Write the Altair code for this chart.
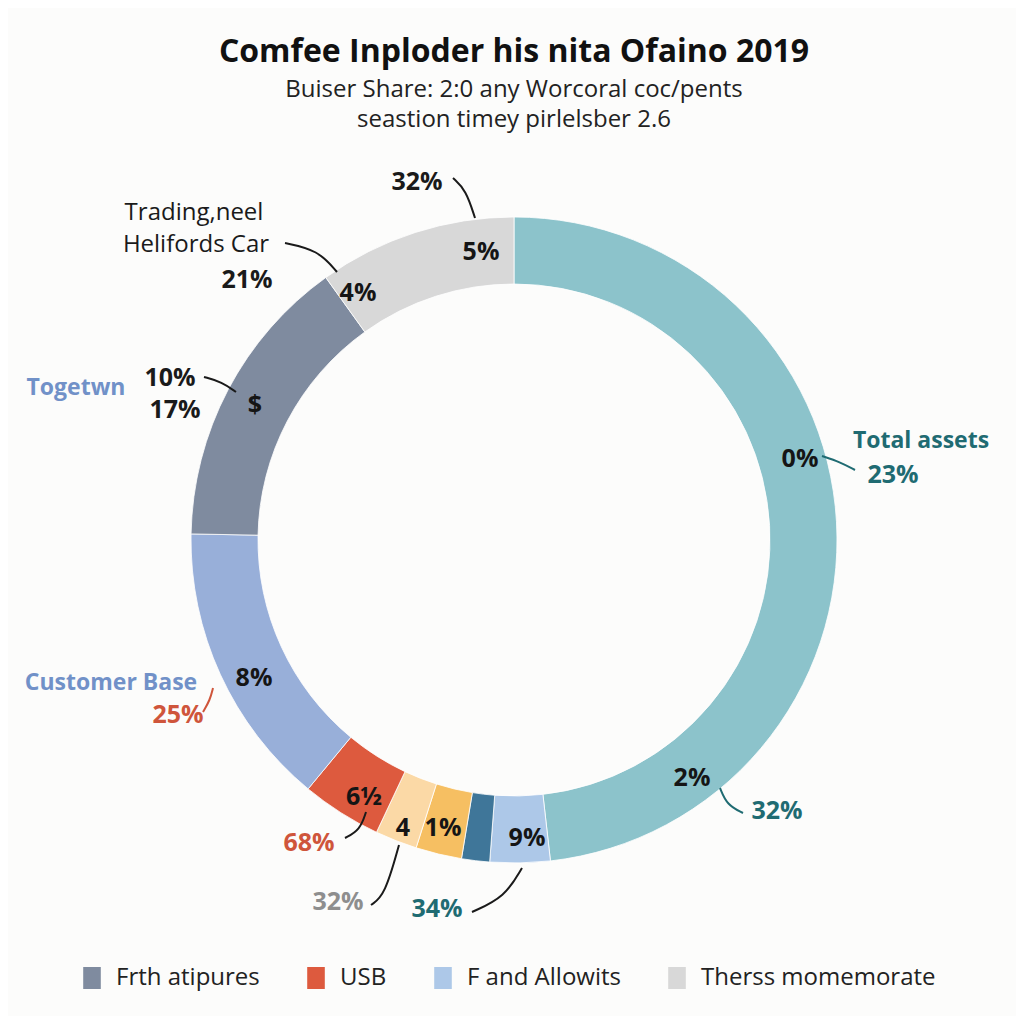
import altair as alt
import pandas as pd

# ---- ring data (clockwise from 12 o'clock) ----
categories = ["Total assets", "F and Allowits", "Holdings", "Seastion", "Timey",
              "USB", "Customer Base", "Frth atipures", "Therss momemorate"]
shares = [48.2, 3.0, 1.4, 2.3, 2.1, 4.0, 14.3, 14.8, 9.9]
colors = ["#8cc3cb", "#adc8e8", "#3f7699", "#f6bf62", "#fbd9a6",
          "#dd5a3e", "#98afd9", "#7f8b9f", "#d8d8d8"]
legend_items = ["Frth atipures", "USB", "F and Allowits", "Therss momemorate"]

# ---- labels inside the ring ----
in_text = ["5%", "4%", "$", "8%", "6½", "4", "1%", "9%", "2%", "0%"]
in_dx = [-33, -156, -259, -260, -150, -111, -71, 13, 178, 286]
in_dy = [-288, -247, -135, 138, 257, 288, 288, 298, 238, -81]

# ---- outer annotations (bold) ----
ob_text = ["32%", "21%", "10%", "17%", "25%", "68%", "32%", "34%",
           "Total assets", "23%", "32%", "Togetwn", "Customer Base"]
ob_dx = [-97, -267, -344, -339, -336, -205, -176, -77, 407, 379, 263, -438, -403]
ob_dy = [-358, -260, -162, -130, 175, 303, 362, 369, -99, -65, 271, -152, 143]
ob_col = ["#1a1a1a", "#1a1a1a", "#1a1a1a", "#1a1a1a", "#cf553b", "#cf553b",
          "#8e8e8e", "#1f6b72", "#1f6b72", "#1f6b72", "#1f6b72", "#7191c8", "#7191c8"]
ob_size = [25, 25, 25, 25, 25, 25, 25, 25, 23, 25, 25, 23, 23]

# ---- outer annotations (regular) ----
or_text = ["Trading,neel", "Helifords Car"]
or_dx = [-320, -318]
or_dy = [-327, -295]

# ---- connector curves ----
conn_id = [1, 1, 1, 2, 2, 2, 3, 3, 3, 4, 4, 4, 5, 5, 5, 6, 6, 6, 7, 7, 7, 8, 8, 8, 9, 9, 9]
conn_step = [0, 1, 2] * 9
conn_dx = [-61, -48, -39, -229, -196, -177, -310, -292, -278, -311, -304, -301,
           -169, -154, -148, -143, -129, -115, -42, -9, 8, 308, 326, 341, 206, 213, 229]
conn_dy = [-362, -350, -322, -297, -290, -268, -163, -158, -148, 172, 160, 148,
           298, 290, 272, 365, 355, 305, 372, 357, 328, -84, -78, -70, 248, 265, 273]
conn_col_by_id = {1: "#1a1a1a", 2: "#1a1a1a", 3: "#1a1a1a", 4: "#cf553b", 5: "#1a1a1a",
                  6: "#1a1a1a", 7: "#1a1a1a", 8: "#1f6b72", 9: "#1f6b72"}

ring = pd.DataFrame({"category": categories, "share": shares,
                     "order": list(range(len(categories)))})
inside = pd.DataFrame({"t": in_text, "dx": in_dx, "dy": in_dy})
outer_b = pd.DataFrame({"t": ob_text, "dx": ob_dx, "dy": ob_dy, "c": ob_col, "s": ob_size})
outer_r = pd.DataFrame({"t": or_text, "dx": or_dx, "dy": or_dy})
conn = pd.DataFrame({"id": conn_id, "step": conn_step, "dx": conn_dx, "dy": conn_dy,
                     "c": [conn_col_by_id[i] for i in conn_id]})

W, H = 1000, 780
xs = alt.Scale(domain=[-W / 2, W / 2])
ys = alt.Scale(domain=[-H / 2, H / 2], reverse=True)
X = alt.X("dx:Q", scale=xs, axis=None)
Y = alt.Y("dy:Q", scale=ys, axis=None)
FONT = "Open Sans"

arc = alt.Chart(ring).mark_arc(outerRadius=323, innerRadius=256,
                               stroke="#ffffff", strokeWidth=0.8).encode(
    theta=alt.Theta("share:Q", stack=True),
    order=alt.Order("order:Q"),
    color=alt.Color("category:N",
                    scale=alt.Scale(domain=categories, range=colors),
                    legend=alt.Legend(title=None, orient="none", legendX=66, legendY=816,
                                      direction="horizontal", values=legend_items,
                                      symbolType="M-0.8,-1H0.8V1H-0.8Z", symbolSize=484,
                                      symbolStrokeWidth=0, symbolOpacity=1,
                                      labelFont=FONT, labelFontSize=24, labelLimit=400,
                                      labelColor="#222222", labelOffset=12,
                                      columnPadding=44)),
)

lines = alt.Chart(conn).mark_line(interpolate="basis", strokeWidth=2).encode(
    x=X, y=Y, detail="id:N", order="step:Q",
    stroke=alt.Stroke("c:N", scale=None),
)

t_inside = alt.Chart(inside).mark_text(font=FONT, fontWeight="bold", fontSize=25,
                                       color="#151515").encode(x=X, y=Y, text="t:N")

t_outer_b = alt.Chart(outer_b).mark_text(font=FONT, fontWeight="bold").encode(
    x=X, y=Y, text="t:N",
    fill=alt.Fill("c:N", scale=None),
    size=alt.Size("s:Q", scale=None),
)

t_outer_r = alt.Chart(outer_r).mark_text(font=FONT, fontSize=24, color="#1a1a1a").encode(
    x=X, y=Y, text="t:N")

chart = alt.layer(arc, lines, t_inside, t_outer_b, t_outer_r).properties(
    width=W, height=H,
    autosize=alt.AutoSizeParams(type="none"),
    padding={"left": 6, "top": 142, "right": 2, "bottom": 86},
    background="#fcfcfb",
    title=alt.TitleParams(
        text="Comfee Inploder his nita Ofaino 2019",
        subtitle=["Buiser Share: 2:0 any Worcoral coc/pents",
                  "seastion timey pirlelsber 2.6"],
        font=FONT, fontSize=32, fontWeight="bold", color="#111111",
        subtitleFont=FONT, subtitleFontSize=24, subtitleColor="#222222",
        subtitleLineHeight=30, subtitlePadding=9,
        anchor="middle", offset=17,
    ),
).configure_view(stroke=None)

chart.save("out.html", embed_options={"renderer": "svg", "actions": False})
